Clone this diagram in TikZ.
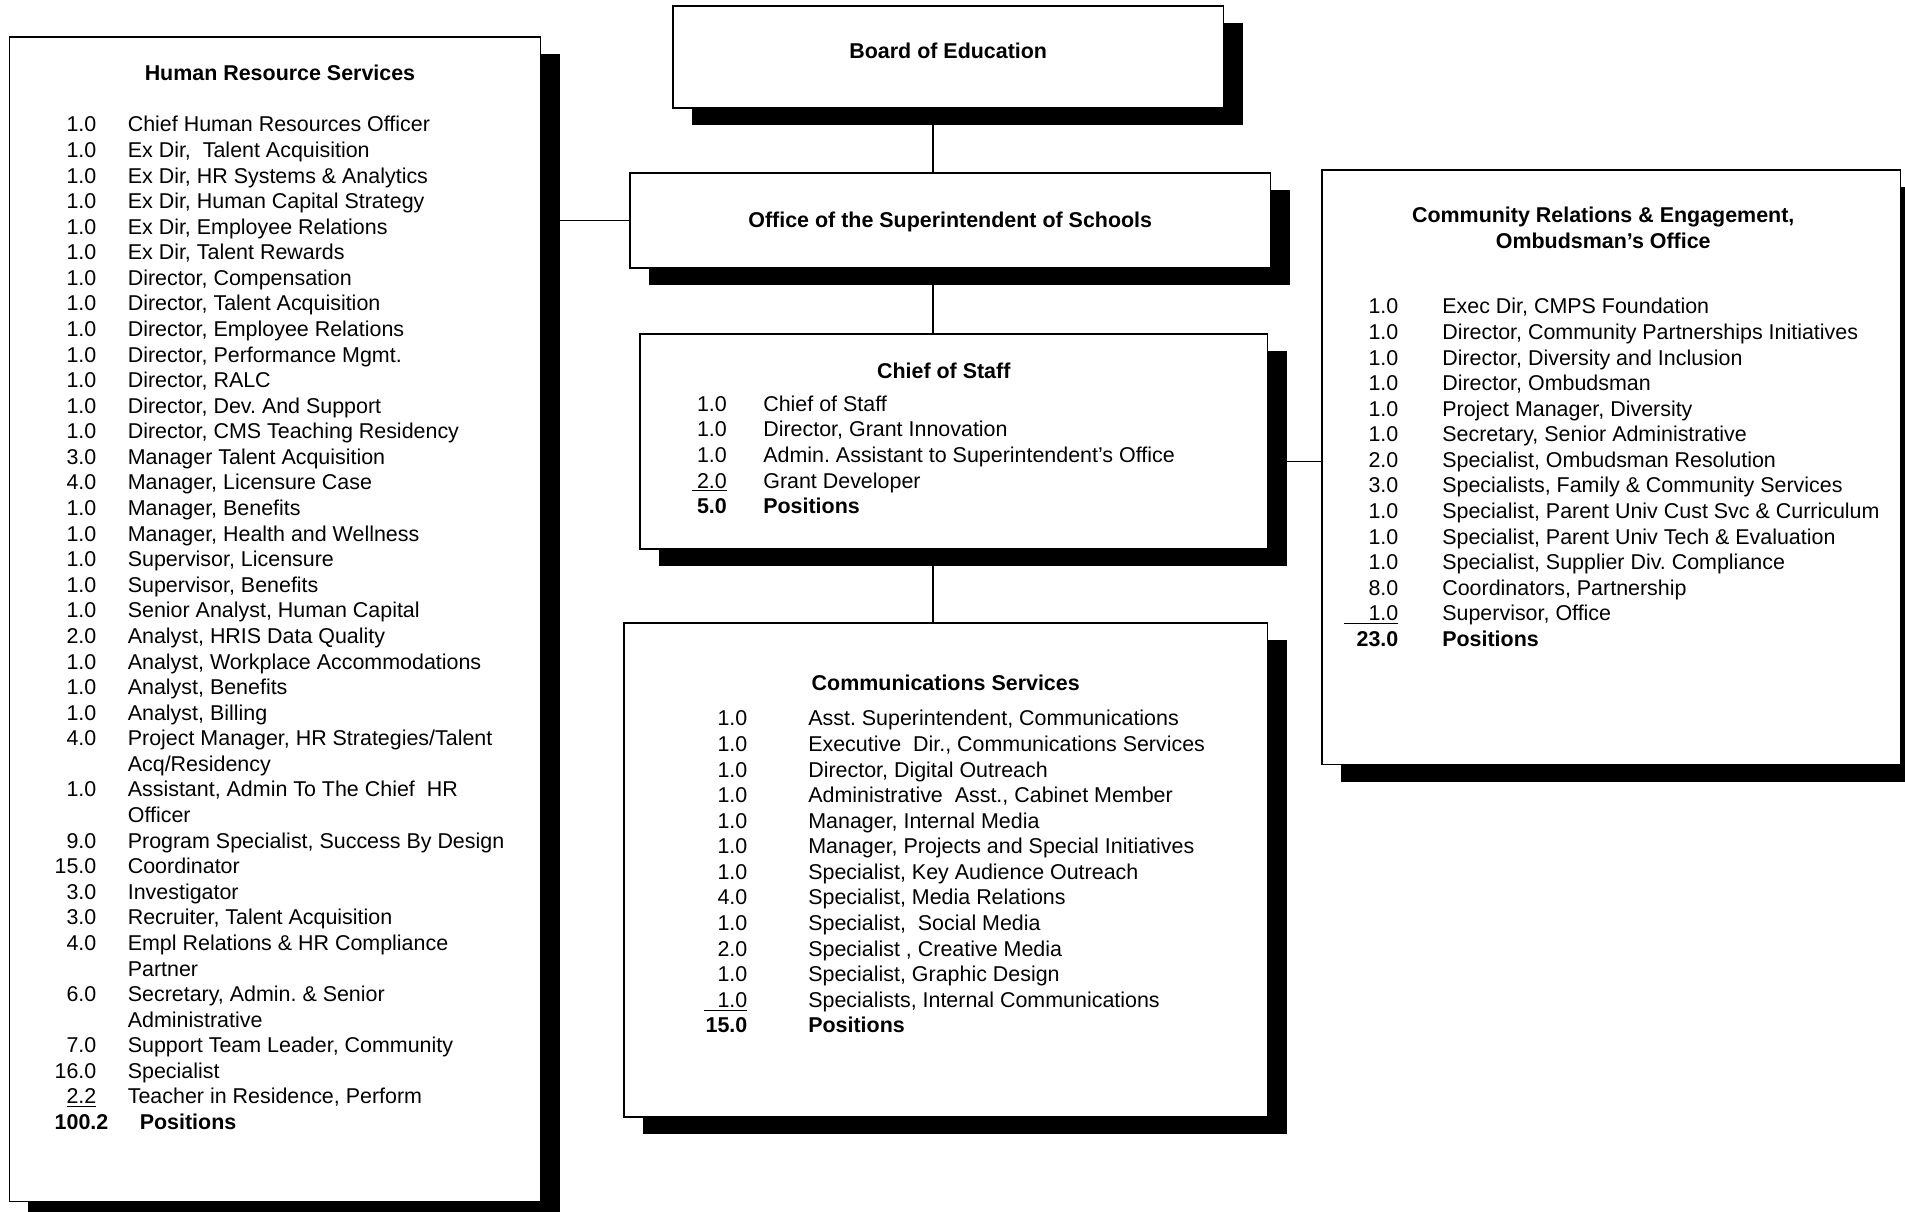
\documentclass[tikz,border=0pt]{standalone}
\usepackage{fontspec}
\setmainfont{Liberation Sans}
\usepackage{array}
\usepackage{tikz}
\usetikzlibrary{positioning,shadows}
\newcolumntype{N}[1]{>{\raggedleft\arraybackslash}p{#1}}
\frenchspacing

\begin{document}
\begin{tikzpicture}[
  x=0.02cm,y=-0.02cm,
  unit/.style={draw=black,line width=0.9pt,fill=white,anchor=north west,inner sep=0pt,
               drop shadow={shadow xshift=0.38cm,shadow yshift=-0.34cm,fill=black,opacity=1}},
  head/.style={font=\fontsize{12.2}{14.56}\selectfont\bfseries,inner sep=0pt,align=center},
  staff/.style={font=\fontsize{12.2}{14.56}\selectfont,inner sep=0pt},
  link/.style={black,line width=0.8pt}
]
  \useasboundingbox (0,0) rectangle (1905,1211);

  % ── Boxes ────────────────────────────────────────────────────────────────
  \node[unit,minimum width=10.63cm,minimum height=23.3cm] (hr)    at (8.5,36) {};
  \node[unit,minimum width=11.02cm,minimum height=2.04cm] (board) at (672,5) {};
  \node[unit,minimum width=12.82cm,minimum height=1.9cm]  (super) at (629,172) {};
  \node[unit,minimum width=12.56cm,minimum height=4.3cm]  (chief) at (639,333) {};
  \node[unit,minimum width=12.88cm,minimum height=9.88cm] (comm)  at (623,622) {};
  \node[unit,minimum width=11.58cm,minimum height=11.9cm] (cre)   at (1321,169) {};

  % ── Titles ───────────────────────────────────────────────────────────────
  \node[head,below=0.76cm of board.north] (boardname) {Board of Education};
  \node[head,below=0.8cm of super.north] (supername) {Office of the Superintendent of Schools};
  \node[head,below=0.58cm of hr.north,xshift=0.1cm] (hrname) {Human Resource Services};
  \node[head,below=0.59cm of chief.north,xshift=-0.2cm] (chiefname) {Chief of Staff};
  \node[head,below=1.06cm of comm.north] (commname) {Communications Services};
  \node[head,below=0.76cm of cre.north,xshift=-0.16cm] (crename)
       {Community Relations \& Engagement,\\Ombudsman's Office};

  % ── Position lists ───────────────────────────────────────────────────────
  \node[staff,below right=1.552cm and 0.45cm of hr.north west] (hrlist) {%
    \begin{tabular}{@{}N{1.3cm}@{\hspace{0.63cm}}l@{}}
      1.0 & Chief Human Resources Officer\\
      1.0 & Ex Dir,~ Talent Acquisition\\
      1.0 & Ex Dir, HR Systems \& Analytics\\
      1.0 & Ex Dir, Human Capital Strategy\\
      1.0 & Ex Dir, Employee Relations\\
      1.0 & Ex Dir, Talent Rewards\\
      1.0 & Director, Compensation\\
      1.0 & Director, Talent Acquisition\\
      1.0 & Director, Employee Relations\\
      1.0 & Director, Performance Mgmt.\\
      1.0 & Director, RALC\\
      1.0 & Director, Dev. And Support\\
      1.0 & Director, CMS Teaching Residency\\
      3.0 & Manager Talent Acquisition\\
      4.0 & Manager, Licensure Case\\
      1.0 & Manager, Benefits\\
      1.0 & Manager, Health and Wellness\\
      1.0 & Supervisor, Licensure\\
      1.0 & Supervisor, Benefits\\
      1.0 & Senior Analyst, Human Capital\\
      2.0 & Analyst, HRIS Data Quality\\
      1.0 & Analyst, Workplace Accommodations\\
      1.0 & Analyst, Benefits\\
      1.0 & Analyst, Billing\\
      4.0 & Project Manager, HR Strategies/Talent\\
          & Acq/Residency\\
      1.0 & Assistant, Admin To The Chief~ HR\\
          & Officer\\
      9.0 & Program Specialist, Success By Design\\
      15.0 & Coordinator\\
      3.0 & Investigator\\
      3.0 & Recruiter, Talent Acquisition\\
      4.0 & Empl Relations \& HR Compliance\\
          & Partner\\
      6.0 & Secretary, Admin. \& Senior\\
          & Administrative\\
      7.0 & Support Team Leader, Community\\
      16.0 & Specialist\\
      \underline{2.2} & Teacher in Residence, Perform\\
      \multicolumn{2}{@{}l@{}}{\makebox[1.54cm][r]{\textbf{100.2}}\hspace{0.63cm}\textbf{Positions}}
    \end{tabular}};

  \node[staff,below right=1.2cm and 0.45cm of chief.north west] (chieflist) {%
    \begin{tabular}{@{}N{1.3cm}@{\hspace{0.73cm}}l@{}}
      1.0 & Chief of Staff\\
      1.0 & Director, Grant Innovation\\
      1.0 & Admin. Assistant to Superintendent's Office\\
      \underline{\hspace{0.1cm}2.0} & Grant Developer\\
      \textbf{5.0} & \textbf{Positions}
    \end{tabular}};

  \node[staff,below right=1.712cm and 1.18cm of comm.north west] (commlist) {%
    \begin{tabular}{@{}N{1.3cm}@{\hspace{1.22cm}}l@{}}
      1.0 & Asst. Superintendent, Communications\\
      1.0 & Executive~ Dir., Communications Services\\
      1.0 & Director, Digital Outreach\\
      1.0 & Administrative~ Asst., Cabinet Member\\
      1.0 & Manager, Internal Media\\
      1.0 & Manager, Projects and Special Initiatives\\
      1.0 & Specialist, Key Audience Outreach\\
      4.0 & Specialist, Media Relations\\
      1.0 & Specialist,~ Social Media\\
      2.0 & Specialist , Creative Media\\
      1.0 & Specialist, Graphic Design\\
      \underline{\hspace{0.27cm}1.0} & Specialists, Internal Communications\\
      \textbf{15.0} & \textbf{Positions}
    \end{tabular}};

  \node[staff,below right=2.532cm and 0.24cm of cre.north west] (crelist) {%
    \begin{tabular}{@{}N{1.3cm}@{\hspace{0.88cm}}l@{}}
      1.0 & Exec Dir, CMPS Foundation\\
      1.0 & Director, Community Partnerships Initiatives\\
      1.0 & Director, Diversity and Inclusion\\
      1.0 & Director, Ombudsman\\
      1.0 & Project Manager, Diversity\\
      1.0 & Secretary, Senior Administrative\\
      2.0 & Specialist, Ombudsman Resolution\\
      3.0 & Specialists, Family \& Community Services\\
      1.0 & Specialist, Parent Univ Cust Svc \& Curriculum\\
      1.0 & Specialist, Parent Univ Tech \& Evaluation\\
      1.0 & Specialist, Supplier Div. Compliance\\
      8.0 & Coordinators, Partnership\\
      \underline{\hspace{0.49cm}1.0} & Supervisor, Office\\
      \textbf{23.0} & \textbf{Positions}
    \end{tabular}};

  % ── Reporting lines ──────────────────────────────────────────────────────
  \coordinate (spine) at (933,0);
  \draw[link] (board.south -| spine) -- (super.north -| spine);
  \draw[link] (super.south -| spine) -- (chief.north -| spine);
  \draw[link] (chief.south -| spine) -- (comm.north -| spine);
  \draw[link] (super.west -| hr.east) -- (super.west);
  \draw[link] ([yshift=-0.4cm]chief.east) -- ([yshift=-0.4cm]chief.east -| cre.west);
\end{tikzpicture}
\end{document}
